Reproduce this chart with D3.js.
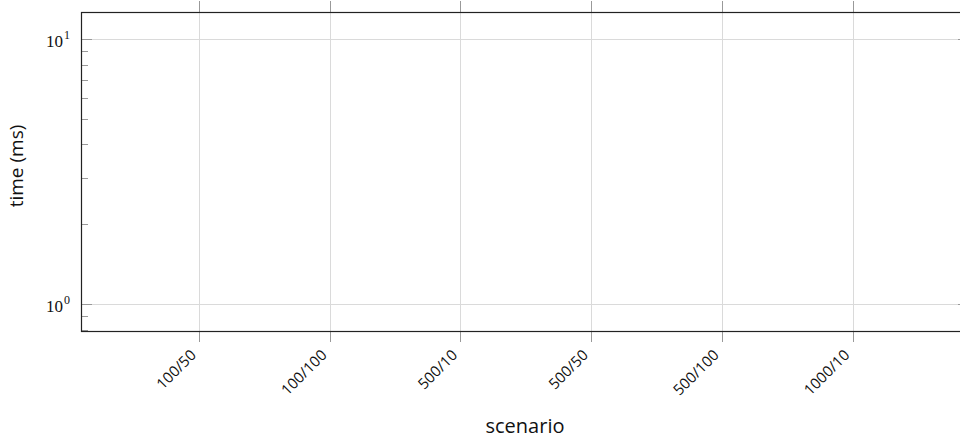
<!DOCTYPE html>
<html>
<head>
<meta charset="utf-8">
<script src="https://cdn.jsdelivr.net/npm/d3@7"></script>
<style>
  body { margin: 0; background: #fff; }
  svg { display: block; }
</style>
</head>
<body>
<div id="chart"></div>
<script>
// scenarios on the x axis (no measurements plotted in the reference)
const scenarios = ["100/50", "100/100", "500/10", "500/50", "500/100", "1000/10"];
const timeMs = []; // empty series
const yDomain = [0.791, 12.64];
const yMajor = [1, 10];
const yMinor = [0.8, 0.9, 2, 3, 4, 5, 6, 7, 8, 9];

const W = 960, H = 443;
const mLeft = 81, mTop = 12, mBottom = 331, mRight = 969;

const svg = d3.select("#chart")
    .append("svg")
    .attr("width", W)
    .attr("height", H);

const x = d3.scalePoint()
    .domain(scenarios)
    .range([199, 852.5]);

const y = d3.scaleLog()
    .domain(yDomain)
    .range([mBottom, mTop]);

// grid
const grid = svg.append("g");
grid.selectAll(".vg")
    .data(scenarios)
    .join("line")
    .attr("x1", d => Math.round(x(d)) + 0.5)
    .attr("x2", d => Math.round(x(d)) + 0.5)
    .attr("y1", mTop).attr("y2", mBottom)
    .attr("stroke", "#dadada");
grid.selectAll(".hg")
    .data(yMajor)
    .join("line")
    .attr("x1", mLeft).attr("x2", mRight)
    .attr("y1", d => Math.round(y(d)) + 0.5)
    .attr("y2", d => Math.round(y(d)) + 0.5)
    .attr("stroke", "#dadada");

// x ticks top and bottom (outward)
const xt = svg.append("g").attr("stroke", "#999");
xt.selectAll(".b")
    .data(scenarios)
    .join("line")
    .attr("x1", d => Math.round(x(d)) + 0.5)
    .attr("x2", d => Math.round(x(d)) + 0.5)
    .attr("y1", mBottom).attr("y2", mBottom + 11);
xt.selectAll(".t")
    .data(scenarios)
    .join("line")
    .attr("x1", d => Math.round(x(d)) + 0.5)
    .attr("x2", d => Math.round(x(d)) + 0.5)
    .attr("y1", mTop).attr("y2", mTop - 11);

// y ticks (inward) left and right
const yt = svg.append("g").attr("stroke", "#999");
yt.selectAll(".maj")
    .data(yMajor)
    .join("line")
    .attr("x1", mLeft).attr("x2", mLeft + 11)
    .attr("y1", d => Math.round(y(d)) + 0.5)
    .attr("y2", d => Math.round(y(d)) + 0.5);
yt.selectAll(".min")
    .data(yMinor)
    .join("line")
    .attr("x1", mLeft).attr("x2", mLeft + 7)
    .attr("y1", d => Math.round(y(d)) + 0.5)
    .attr("y2", d => Math.round(y(d)) + 0.5);
yt.selectAll(".majr")
    .data(yMajor)
    .join("line")
    .attr("x1", mRight).attr("x2", mRight - 11)
    .attr("y1", d => Math.round(y(d)) + 0.5)
    .attr("y2", d => Math.round(y(d)) + 0.5);
yt.selectAll(".minr")
    .data(yMinor)
    .join("line")
    .attr("x1", mRight).attr("x2", mRight - 7)
    .attr("y1", d => Math.round(y(d)) + 0.5)
    .attr("y2", d => Math.round(y(d)) + 0.5);

// frame
svg.append("rect")
    .attr("x", mLeft + 0.5).attr("y", mTop + 0.5)
    .attr("width", mRight - mLeft).attr("height", mBottom - mTop)
    .attr("fill", "none")
    .attr("stroke", "#222")
    .attr("stroke-width", 1.2);

// y tick labels 10^k
const yl = svg.append("g")
    .attr("font-family", "'Liberation Serif', 'DejaVu Serif', serif")
    .attr("fill", "#111");
yMajor.forEach(v => {
    const t = yl.append("text")
        .attr("x", 70)
        .attr("y", y(v) + 8)
        .attr("text-anchor", "end")
        .attr("font-size", 17);
    t.append("tspan").text("10");
    t.append("tspan")
        .attr("dy", -8)
        .attr("dx", 1)
        .attr("font-size", 12)
        .text(Math.round(Math.log10(v)));
});

// x tick labels rotated
svg.append("g")
    .selectAll("text")
    .data(scenarios)
    .join("text")
    .attr("transform", d => `translate(${x(d) - 2},${mBottom + 25}) rotate(-45)`)
    .attr("text-anchor", "end")
    .attr("font-family", "'Open Sans', sans-serif")
    .attr("font-size", 15)
    .attr("fill", "#111")
    .text(d => d);

// axis titles
svg.append("text")
    .attr("x", (mLeft + mRight) / 2).attr("y", 433)
    .attr("text-anchor", "middle")
    .attr("font-family", "'Open Sans', sans-serif")
    .attr("font-size", 20)
    .attr("fill", "#111")
    .text("scenario");

svg.append("text")
    .attr("transform", "translate(23,166) rotate(-90)")
    .attr("text-anchor", "middle")
    .attr("font-family", "'Open Sans', sans-serif")
    .attr("font-size", 19)
    .attr("fill", "#111")
    .text("time (ms)");
</script>
</body>
</html>
